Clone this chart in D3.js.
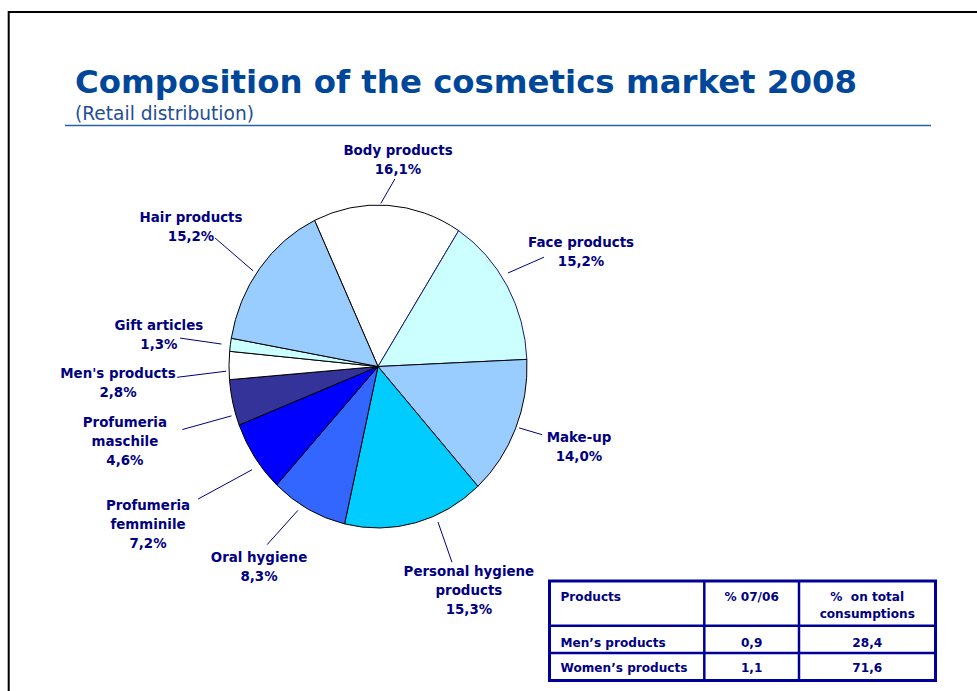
<!DOCTYPE html>
<html>
<head>
<meta charset="utf-8">
<script src="https://cdn.jsdelivr.net/npm/d3@7/dist/d3.min.js"></script>
<style>
  html, body { margin: 0; padding: 0; background: #fff; }
  svg { display: block; }
  text { font-family: "DejaVu Sans", Verdana, sans-serif; }
</style>
</head>
<body>
<svg id="chart" width="977" height="691"></svg>
<script>
// Market shares by product group (retail distribution, 2008)
const categories = [
  "Body products", "Face products", "Make-up", "Personal hygiene\nproducts",
  "Oral hygiene", "Profumeria\nfemminile", "Profumeria\nmaschile",
  "Men's products", "Gift articles", "Hair products"
];
const shares = [16.1, 15.2, 14.0, 15.3, 8.3, 7.2, 4.6, 2.8, 1.3, 15.2];
const sliceColors = [
  "#FFFFFF", "#CCFFFF", "#99CCFF", "#00CCFF", "#3366FF",
  "#0000FF", "#333399", "#FFFFFF", "#CCFFFF", "#99CCFF"
];
const sliceStrokes = [
  "#000000", "#1A1A80", "#000000", "#000000", "#000000",
  "#000000", "#000000", "#000000", "#000000", "#000000"
];

// Summary table: men's vs women's products
const tableHeader = ["Products", "% 07/06", "%\u00A0\u00A0on total\nconsumptions"];
const tableRows = [
  ["Men\u2019s products", "0,9", "28,4"],
  ["Women\u2019s products", "1,1", "71,6"]
];

// Label placement around the pie (radius factors and angular nudges, degrees)
const labelRadius  = [1.289, 1.539, 1.438, 1.513, 1.474, 1.826, 1.76, 1.748, 1.484, 1.525];
const labelNudge   = [2.2, 2.2, -2.4, -9.2, 4.9, 1.9, -2.2, -3.7, 0, -2.8];
const leaderRadius = [1.167, 1.304, 1.18, 1.31, 1.33, 1.46, 1.37, 1.35, 1.34, 1.353];
const leaderNudge  = [1.8, -1.4, -1.7, -7.7, 6.1, 0, -3.6, -3.2, -0.2, -1.4];
const leaderInnerRadius = [1.01, 1.047, 1.02, 1.044, 1.04, 1.06, 1.03, 1.02, 1.06, 1.026];
const leaderInnerNudge  = [-2.7, -3.7, -0.8, -8.1, 3.2, -2.9, -4.3, -2, -0.2, -2.2];

const svg = d3.select("#chart");
const navy = "#000080";

// Page frame
svg.append("path")
  .attr("d", "M8.7,691 V12 H977")
  .attr("fill", "none").attr("stroke", "#000").attr("stroke-width", 2);

// Title block
svg.append("text")
  .attr("x", 75).attr("y", 93)
  .attr("font-size", 32).attr("font-weight", "bold")
  .attr("fill", "#00479A")
  .attr("textLength", 782).attr("lengthAdjust", "spacingAndGlyphs")
  .text("Composition of the cosmetics market 2008");
svg.append("text")
  .attr("x", 75).attr("y", 120)
  .attr("font-size", 18.6)
  .attr("fill", "#1F4E96")
  .text("(Retail distribution)");
svg.append("line")
  .attr("x1", 65).attr("x2", 931).attr("y1", 125.5).attr("y2", 125.5)
  .attr("stroke", "#2462A8").attr("stroke-width", 1.5);

// Pie (drawn slightly taller than wide)
const cx = 378, cy = 366.5, rx = 149, ry = 161.5;
const startDeg = -25.2;
const rad = d => d * Math.PI / 180;

const pie = d3.pie().sort(null).value(d => d)
  .startAngle(rad(startDeg)).endAngle(rad(startDeg + 360));
const arcs = pie(shares);
const arc = d3.arc().innerRadius(0).outerRadius(rx);

const gPie = svg.append("g")
  .attr("transform", `translate(${cx},${cy}) scale(1,${ry / rx})`);
gPie.selectAll("path.slice")
  .data(arcs)
  .join("path")
  .attr("class", "slice")
  .attr("d", arc)
  .attr("fill", (d, i) => sliceColors[i])
  .attr("stroke", (d, i) => sliceStrokes[i])
  .attr("stroke-width", 1)
  .attr("stroke-linejoin", "round")
  .attr("vector-effect", "non-scaling-stroke");

// Point on the pie's ellipse at angle a (radians, clockwise from top) and radius factor k
const at = (a, k) => [cx + rx * k * Math.sin(a), cy - ry * k * Math.cos(a)];

const fmt = d3.formatLocale({ decimal: ",", thousands: ".", grouping: [3], currency: ["", "€"] }).format(".1f");

arcs.forEach((d, i) => {
  const mid = (d.startAngle + d.endAngle) / 2;
  const p0 = at(mid + rad(leaderInnerNudge[i]), leaderInnerRadius[i]);
  const p1 = at(mid + rad(leaderNudge[i]), leaderRadius[i]);
  svg.append("line")
    .attr("x1", p0[0]).attr("y1", p0[1]).attr("x2", p1[0]).attr("y2", p1[1])
    .attr("stroke", navy).attr("stroke-width", 1);

  const lines = categories[i].split("\n").concat([fmt(shares[i]) + "%"]);
  const c = at(mid + rad(labelNudge[i]), labelRadius[i]);
  const lh = 19;
  const y0 = c[1] - (lines.length - 1) * lh / 2 + 5;
  const t = svg.append("text")
    .attr("text-anchor", "middle")
    .attr("font-size", 13.4).attr("font-weight", "bold")
    .attr("fill", navy);
  lines.forEach((s, j) => {
    t.append("tspan").attr("x", c[0]).attr("y", y0 + j * lh).text(s);
  });
});

// Table
const tblX = [549.5, 704.3, 799, 935.5];
const tblY = [581, 625.7, 653, 680.5];
const tblColor = "#000099";
const gT = svg.append("g");
gT.append("rect")
  .attr("x", tblX[0]).attr("y", tblY[0])
  .attr("width", tblX[3] - tblX[0]).attr("height", tblY[3] - tblY[0])
  .attr("fill", "#fff").attr("stroke", tblColor).attr("stroke-width", 3);
[tblX[1], tblX[2]].forEach(x => gT.append("line")
  .attr("x1", x).attr("x2", x).attr("y1", tblY[0]).attr("y2", tblY[3])
  .attr("stroke", tblColor).attr("stroke-width", 2.5));
[tblY[1], tblY[2]].forEach(y => gT.append("line")
  .attr("x1", tblX[0]).attr("x2", tblX[3]).attr("y1", y).attr("y2", y)
  .attr("stroke", tblColor).attr("stroke-width", 2.5));

const cellText = (txt, col, baseline) => {
  const lines = txt.split("\n");
  const x = col === 0 ? tblX[0] + 11 : (tblX[col] + tblX[col + 1]) / 2;
  const t = gT.append("text")
    .attr("font-size", 12.1).attr("font-weight", "bold")
    .attr("fill", navy)
    .attr("text-anchor", col === 0 ? "start" : "middle");
  lines.forEach((s, j) => t.append("tspan").attr("x", x).attr("y", baseline + j * 17).text(s));
};
tableHeader.forEach((h, c) => cellText(h, c, 601));
tableRows.forEach((row, r) => row.forEach((v, c) => cellText(v, c, r === 0 ? 646.5 : 672)));
</script>
</body>
</html>
